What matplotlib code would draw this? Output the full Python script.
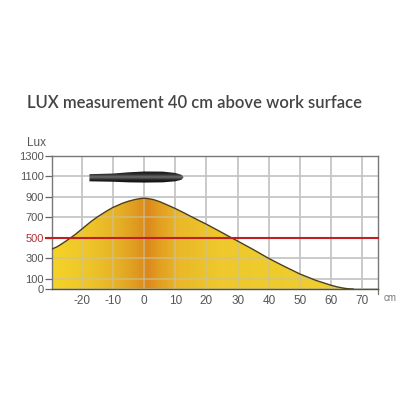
import numpy as np
import matplotlib
matplotlib.use('Agg')
import matplotlib.pyplot as plt
from matplotlib.colors import LinearSegmentedColormap
from matplotlib.patches import Polygon

title = 'LUX measurement 40 cm above work surface'
curve_x = [-29.5, -28, -27, -25, -23.5, -22, -20, -17, -15, -12, -10, -7, -5, -3, -1, 0, 1, 3, 5, 7, 10, 13, 15, 18,
           20, 25, 28, 30, 35, 40, 45, 50, 55, 60, 62, 64, 65, 66, 67]
curve_y = [390, 410, 428, 468, 500, 533, 583, 658, 702, 760, 795, 835, 856, 872, 883, 885, 883, 872, 852, 826, 785,
           740, 708, 662, 632, 550, 500, 468, 385, 298, 220, 146, 85, 36, 20, 8, 4, 1, 0]
xticks = [-20, -10, 0, 10, 20, 30, 40, 50, 60, 70]
yticks = [0, 100, 300, 500, 700, 900, 1100, 1300]
limit = 500
lamp_x = [-17.5, -17.5, -10, -5, 0, 6, 10, 12, 12.7, 12, 10, 6, 0, -5, -10]
lamp_y = [1050, 1120, 1126, 1138, 1146, 1145, 1132, 1114, 1090, 1065, 1050, 1040, 1038, 1040, 1046]

grey = '#555555'
plt.rcParams['font.family'] = ['Liberation Sans', 'DejaVu Sans']
plt.rcParams['axes.unicode_minus'] = False

fig = plt.figure(figsize=(4, 4), dpi=100)
ax = fig.add_axes([52 / 400, 111 / 400, 326 / 400, 133.3 / 400])
ax.set_xlim(-29.5, 75)
ax.set_ylim(0, 1300)

ax.set_xticks(xticks)
ax.set_yticks(yticks)
ax.grid(color='#c6c6c6', linewidth=1.3)
ax.set_axisbelow(True)
ax.tick_params(axis='x', length=0, labelsize=8.5, labelcolor=grey, pad=4)
ax.tick_params(axis='y', length=5, width=0.9, color='#666666', labelsize=8, labelcolor=grey, pad=1)
for s in ax.spines.values():
    s.set_color('#777777')
    s.set_linewidth(1.0)
ax.spines['bottom'].set_color('#555533')

# yellow to orange to yellow fill under the curve
cmap = LinearSegmentedColormap.from_list('lux', [
    (0.0, '#f5d327'), (0.12, '#eec52a'), (0.22, '#e6b026'), (0.28, '#df9a20'),
    (0.315, '#dc871c'), (0.35, '#e29c20'), (0.42, '#eab828'), (0.55, '#eec82c'), (1.0, '#f0d030')])
grad = np.linspace(0, 1, 512).reshape(1, -1)
im = ax.imshow(grad, extent=[-29.5, 67, 0, 1300], aspect='auto', cmap=cmap, zorder=1)
area = ax.fill_between(curve_x, curve_y, 0, color='none')
fill_path = area.get_paths()[0]
im.set_clip_path(fill_path, transform=ax.transData)

# the grid shows through the fill, only inside it
for gx in xticks:
    ln = ax.axvline(gx, color='#c9c2a0', alpha=0.6, linewidth=1.3, zorder=2)
    ln.set_clip_path(fill_path, transform=ax.transData)
for gy in yticks:
    ln = ax.axhline(gy, color='#c9c2a0', alpha=0.6, linewidth=1.3, zorder=2)
    ln.set_clip_path(fill_path, transform=ax.transData)
ax.plot(curve_x, curve_y, color='#4a4020', linewidth=1.0, zorder=3)

# lamp
lamp_shade = LinearSegmentedColormap.from_list('lamp', ['#161616', '#2a2a2a', '#6e6e6e', '#202020', '#0e0e0e'])
lamp_im = ax.imshow(np.linspace(0, 1, 64).reshape(-1, 1), extent=[-18, 13, 1035, 1150], aspect='auto',
                    cmap=lamp_shade, zorder=4)
lamp = Polygon(np.column_stack([lamp_x, lamp_y]), closed=True, transform=ax.transData, facecolor='none', edgecolor='none')
ax.add_patch(lamp)
lamp_im.set_clip_path(lamp)
ax.set_xlim(-29.5, 75)
ax.set_ylim(0, 1300)

# limit line runs out over the tick
ax.plot([-31.5, 75], [limit, limit], color='#c01f24', linewidth=1.5, zorder=5, clip_on=False)
for lab, val in zip(ax.get_yticklabels(), yticks):
    if val == limit:
        lab.set_color('#b03038')

ax.plot([75, 75], [0, -45], color='#777777', linewidth=0.9, clip_on=False)
ax.text(390, 400 - 298, 'cm', transform=None, fontsize=7, color='#777777', ha='center', va='center')
ax.text(36, 400 - 143, 'Lux', transform=None, fontsize=8.5, color=grey, ha='center', va='center')
fig.text(27 / 400, (400 - 103) / 400, title, fontsize=12, color='#444444', family=['Lato', 'DejaVu Sans'],
         fontweight='semibold', ha='left', va='center')

fig.savefig('out.png', dpi=100)
